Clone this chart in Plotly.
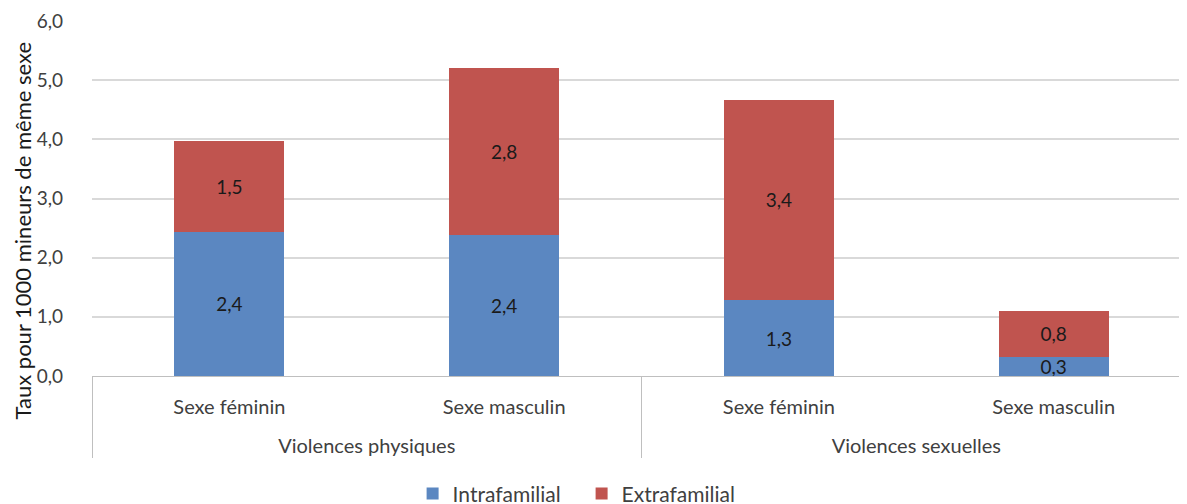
import plotly.graph_objects as go

groups = ["<br>Violences physiques", "<br>Violences physiques", "<br>Violences sexuelles", "<br>Violences sexuelles"]
sexes = ["Sexe féminin", "Sexe masculin", "Sexe féminin", "Sexe masculin"]
intrafamilial = [2.44, 2.39, 1.28, 0.32]
extrafamilial = [1.54, 2.82, 3.39, 0.78]
y_ticks = [0, 1, 2, 3, 4, 5, 6]
y_title = "Taux pour 1000 mineurs de même sexe"

FONT = "Lato, Liberation Sans, sans-serif"
TXT = "#404040"

fig = go.Figure()
fig.add_trace(go.Bar(
    x=[groups, sexes], y=intrafamilial, name="Intrafamilial",
    marker=dict(color="#5B87C1", line=dict(width=0)),
    texttemplate="%{y:.1f}", textposition="inside", insidetextanchor="middle",
    constraintext="none",
    textfont=dict(color="#1a1a1a", size=19, family=FONT),
))
fig.add_trace(go.Bar(
    x=[groups, sexes], y=extrafamilial, name="Extrafamilial",
    marker=dict(color="#C0544F", line=dict(width=0)),
    texttemplate="%{y:.1f}", textposition="inside", insidetextanchor="middle",
    constraintext="none",
    textfont=dict(color="#1a1a1a", size=19, family=FONT),
))

fig.add_annotation(
    text=y_title, textangle=-90, showarrow=False,
    xref="paper", yref="paper", x=0, y=0.41, xanchor="center", yanchor="middle",
    xshift=-70, font=dict(size=22, color="#1a1a1a", family=FONT),
)

fig.update_layout(
    width=1187, height=504,
    barmode="stack", bargap=0.6,
    separators=", ",
    paper_bgcolor="white", plot_bgcolor="white",
    font=dict(family=FONT, size=19, color=TXT),
    margin=dict(l=84, r=4, t=13, b=136),
    showlegend=True,
    legend=dict(orientation="h", xref="paper", x=0.4455, xanchor="center",
                yref="container", y=0.036, yanchor="middle",
                font=dict(size=21, color=TXT, family=FONT), itemwidth=30,
                entrywidth=124, traceorder="normal"),
    xaxis=dict(
        type="multicategory", showline=True, linecolor="#BFBFBF", linewidth=1,
        showdividers=True, dividercolor="#BFBFBF", dividerwidth=1,
        tickfont=dict(size=20, color=TXT, family=FONT),
        ticklabelstandoff=13,
        automargin=False,
    ),
    yaxis=dict(
        range=[0, 6], tickvals=y_ticks, tickformat=".1f",
        showgrid=True, gridcolor="#D9D9D9", gridwidth=1.5, zeroline=False,
        showline=False, ticks="", ticklen=0, automargin=False,
        ticklabelstandoff=28,
        tickfont=dict(size=19, color=TXT, family=FONT),
    ),
)

fig.write_html("out.html")
